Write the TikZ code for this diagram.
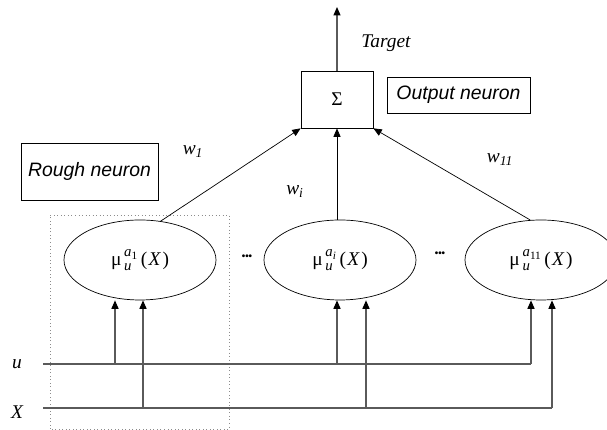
\documentclass[tikz,border=0pt]{standalone}
\usepackage{fontspec}
\setmainfont{Liberation Serif}
\newfontfamily\arialfont{Liberation Sans}
\usepackage{xcolor}
\usepackage{tikz}
\usetikzlibrary{arrows.meta,shapes.geometric}
\definecolor{RNWire}{HTML}{5A5A5A}
\definecolor{RNBox}{HTML}{8C8C8C}
\newcommand{\bigtxt}{\fontsize{13.8}{16}\selectfont}
\newcommand{\membfn}[1]{μ\kern2pt\rlap{\raisebox{-0.5ex}{\fontsize{10.5}{10}\selectfont\itshape u}}\raisebox{1.0ex}{\fontsize{10.5}{10}\selectfont\itshape a\raisebox{-0.4ex}{\fontsize{8}{8}\selectfont\upshape #1}}\kern2.5pt(\kern1pt\textit{X}\kern1pt)}

\begin{document}
\begin{tikzpicture}[x=1cm,y=1cm,
  wire/.style={RNWire,line width=0.8pt},
  feed/.style={wire,-{Triangle[length=6pt,width=5pt,color=black]}},
  weight/.style={black,line width=0.5pt,-{Triangle[length=6pt,width=5pt]}},
  neuron/.style={draw,ellipse,line width=0.5pt,minimum width=3.8cm,minimum height=2.0cm,inner sep=0pt,font=\bigtxt},
  tag/.style={draw,line width=0.5pt,minimum height=0.9cm,inner sep=2pt,font=\arialfont\itshape\bigtxt},
  lbl/.style={font=\bigtxt\itshape,inner sep=1pt},
  more/.style={font=\arialfont\bfseries\fontsize{7}{7}\selectfont,inner sep=0pt}]
\path[use as bounding box] (0,0) rectangle (15.175,10.75);
\clip (0,0) rectangle (15.175,10.75);

\node[draw,line width=0.5pt,minimum width=1.8cm,minimum height=1.425cm,inner sep=0pt,font=\bigtxt] (sigma) at (8.425,8.2625) {Σ};
\coordinate (target) at (8.425,10.575);
\node[lbl] (tlab) at (9.65,9.675) {Target};
\node[tag,minimum width=3.575cm] (outn) at (11.4625,8.375) {Output neuron};
\node[tag,minimum width=3.425cm,minimum height=1.425cm] (rough) at (2.2375,6.4625) {Rough neuron};

\node[neuron] (e1) at (3.5,4.25) {\membfn{1}};
\node[neuron] (e2) at (8.5,4.25) {\membfn{\itshape i}};
\node[neuron] (e3) at (13.525,4.25) {\membfn{11}};
\node[more] (d1) at (6.175,4.325) {\textbullet\textbullet\textbullet};
\node[more] (d2) at (11.0,4.4) {\textbullet\textbullet\textbullet};

\node[lbl] (w1) at (4.825,6.95) {w\textsubscript{1}};
\node[lbl] (wi) at (7.375,5.95) {w\textsubscript{i}};
\node[lbl] (w11) at (12.5,6.75) {w\textsubscript{11}};

\node[lbl] (u) at (0.425,1.65) {u};
\node[lbl] (x) at (0.425,0.45) {X};
\coordinate (uend) at (13.275,1.65);
\coordinate (xend) at (13.8,0.55);
\coordinate (ua) at (2.875,1.65);
\coordinate (ub) at (8.425,1.65);
\coordinate (xa) at (3.575,0.55);
\coordinate (xb) at (9.15,0.55);

\draw[RNBox,dotted,line width=0.5pt] (1.25,0.025) rectangle (5.725,5.375);

\draw[wire] (1.075,1.65) -- (uend);
\draw[wire] (1.075,0.55) -- (xend);
\draw[feed] (ua) -- (ua |- e1.south);
\draw[feed] (xa) -- (xa |- e1.south);
\draw[feed] (ub) -- (ub |- e2.south);
\draw[feed] (xb) -- (xb |- e2.south);
\draw[feed] (uend) -- (uend |- e3.south);
\draw[feed] (xend) -- (xend |- e3.south);

\draw[weight] (e1.62) -- (sigma.south west);
\draw[weight] (sigma.south |- e2.north) -- (sigma.south);
\draw[weight] (e3.105) -- (sigma.south east);
\draw[feed] (sigma.north) -- (target);
\end{tikzpicture}
\end{document}
